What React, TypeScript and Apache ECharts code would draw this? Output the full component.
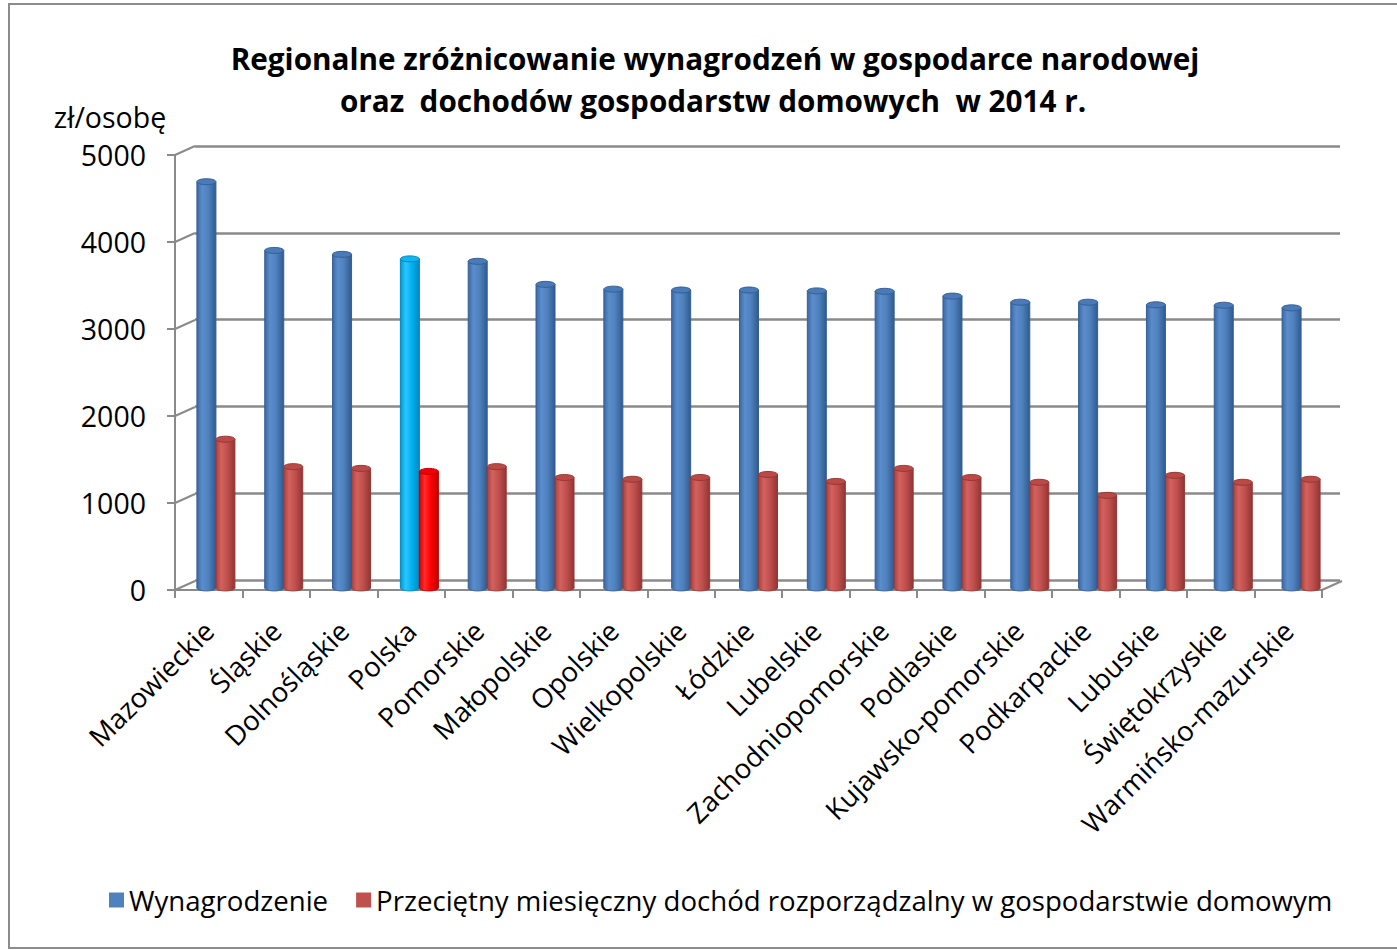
import React, { useEffect, useRef } from "react";
import * as echarts from "echarts";

const categories = [
  "Mazowieckie", "Śląskie", "Dolnośląskie", "Polska", "Pomorskie", "Małopolskie",
  "Opolskie", "Wielkopolskie", "Łódzkie", "Lubelskie", "Zachodniopomorskie",
  "Podlaskie", "Kujawsko-pomorskie", "Podkarpackie", "Lubuskie", "Świętokrzyskie",
  "Warmińsko-mazurskie",
];
const wynagrodzenie = [
  4670, 3880, 3835, 3783, 3755, 3490, 3435, 3425, 3425, 3415, 3410,
  3355, 3285, 3285, 3255, 3250, 3220,
];
const dochod = [
  1710, 1395, 1375, 1340, 1395, 1270, 1250, 1270, 1305, 1225, 1375,
  1270, 1215, 1065, 1295, 1215, 1250,
];
const yTicks = [0, 1000, 2000, 3000, 4000, 5000];
const seriesNames = [
  "Wynagrodzenie",
  "Przeciętny miesięczny dochód rozporządzalny w gospodarstwie domowym",
];
const titleLines = [
  "Regionalne zróżnicowanie wynagrodzeń w gospodarce narodowej",
  "oraz  dochodów gospodarstw domowych  w 2014 r.",
];
const unitLabel = "zł/osobę";
const highlight = "Polska";

const FONT = "'Open Sans', Lato, sans-serif";
const GRID_COLOR = "#8a8a8a";

const palettes = {
  blue: { stops: ["#3a68a4", "#5b8dcd", "#4f81bd", "#2f5a90"], edge: "#355f94", top: "#4a7bb8" },
  red: { stops: ["#a8403d", "#d3625f", "#c0504d", "#923533"], edge: "#953735", top: "#bb4a47" },
  cyan: { stops: ["#0098d4", "#2cc6ff", "#00b0f0", "#0089c0"], edge: "#0088bb", top: "#10b4f2" },
  brightRed: { stops: ["#dd0000", "#ff2a2a", "#ff0000", "#c00000"], edge: "#c00000", top: "#f00000" },
};

function grad(stops: string[]) {
  return new echarts.graphic.LinearGradient(0, 0, 1, 0, [
    { offset: 0, color: stops[0] },
    { offset: 0.28, color: stops[1] },
    { offset: 0.6, color: stops[2] },
    { offset: 1, color: stops[3] },
  ]);
}

function cylinderRenderer(seriesIdx: number) {
  return (params: any, api: any) => {
    const idx = api.value(0);
    const val = api.value(1);
    const top = api.coord([idx, val]);
    const base = api.coord([idx, 0]);
    const w = 19;
    const x = seriesIdx === 0 ? top[0] - w : top[0];
    const isHl = categories[idx] === highlight;
    const pal = seriesIdx === 0 ? (isHl ? palettes.cyan : palettes.blue) : isHl ? palettes.brightRed : palettes.red;
    const ry = 3;
    return {
      type: "group",
      children: [
        {
          type: "ellipse",
          shape: { cx: x + w / 2, cy: base[1], rx: w / 2, ry },
          style: { fill: grad(pal.stops), stroke: pal.edge, lineWidth: 0.8 },
        },
        {
          type: "rect",
          shape: { x, y: top[1], width: w, height: base[1] - top[1] },
          style: { fill: grad(pal.stops), stroke: "none" },
        },
        {
          type: "line",
          shape: { x1: x, y1: top[1], x2: x, y2: base[1] },
          style: { stroke: pal.edge, lineWidth: 1 },
        },
        {
          type: "line",
          shape: { x1: x + w, y1: top[1], x2: x + w, y2: base[1] },
          style: { stroke: pal.edge, lineWidth: 1 },
        },
        {
          type: "ellipse",
          shape: { cx: x + w / 2, cy: top[1], rx: w / 2, ry },
          style: { fill: pal.top, stroke: pal.edge, lineWidth: 1 },
        },
      ],
    };
  };
}

export default function App() {
  const ref = useRef<HTMLDivElement>(null);
  useEffect(() => {
    if (!ref.current) return;
    const chart = echarts.init(ref.current, null, { renderer: "svg" });
    const option: any = {
      animation: false,
      backgroundColor: "#ffffff",
      textStyle: { fontFamily: FONT },
      grid: [
        { left: 175, top: 155, width: 1147, height: 435 },
        { left: 195, top: 146, width: 1145, height: 434 },
        { left: 182, top: 153, width: 1153, height: 435 },
      ],
      xAxis: [
        {
          gridIndex: 0,
          type: "category",
          data: categories,
          boundaryGap: true,
          axisLine: { show: true, lineStyle: { color: GRID_COLOR, width: 2 } },
          axisTick: { show: true, length: 8, lineStyle: { color: GRID_COLOR, width: 2 } },
          axisLabel: {
            interval: 0,
            rotate: 45,
            margin: 36,
            fontSize: 27.5,
            color: "#000",
            fontFamily: FONT,
          },
        },
        { gridIndex: 1, type: "category", data: categories, show: false },
        { gridIndex: 2, type: "category", data: categories, show: false },
      ],
      yAxis: [
        {
          gridIndex: 0,
          type: "value",
          min: 0,
          max: 5000,
          interval: 1000,
          axisLine: { show: true, lineStyle: { color: GRID_COLOR, width: 2 } },
          axisTick: { show: true, length: 8, lineStyle: { color: GRID_COLOR, width: 2 } },
          axisLabel: {
            margin: 29,
            fontSize: 28.5,
            color: "#000",
            fontFamily: FONT,
            formatter: (v: number) => String(v),
          },
          splitLine: { show: false },
        },
        {
          gridIndex: 1,
          type: "value",
          min: 0,
          max: 5000,
          interval: 1000,
          axisLine: { show: false },
          axisTick: { show: false },
          axisLabel: { show: false },
          splitLine: { show: true, lineStyle: { color: GRID_COLOR, width: 2.5 } },
        },
        {
          gridIndex: 2,
          type: "value",
          min: 0,
          max: 5000,
          interval: 1000,
          show: false,
          splitLine: { show: false },
        },
      ],
      legend: {
        data: seriesNames,
        left: 104,
        top: 881,
        itemWidth: 15,
        itemHeight: 15,
        itemGap: 28,
        icon: "rect",
        textStyle: { fontSize: 27.6, color: "#000", fontFamily: FONT },
      },
      series: [
        {
          name: "side",
          type: "custom",
          xAxisIndex: 0,
          yAxisIndex: 0,
          silent: true,
          data: yTicks.map((v) => [v]),
          encode: { y: 0 },
          renderItem: (params: any, api: any) => {
            const y = api.coord([0, api.value(0)])[1];
            const x0 = params.coordSys.x;
            return {
              type: "line",
              shape: { x1: x0, y1: y, x2: x0 + 20, y2: y - 9 },
              style: { stroke: GRID_COLOR, lineWidth: 2 },
            };
          },
          z: 1,
        },
        {
          name: "floorRight",
          type: "custom",
          xAxisIndex: 0,
          yAxisIndex: 0,
          silent: true,
          data: [[0]],
          encode: { y: 0 },
          renderItem: (params: any, api: any) => {
            const y = api.coord([0, api.value(0)])[1];
            const x0 = params.coordSys.x + params.coordSys.width;
            return {
              type: "line",
              shape: { x1: x0, y1: y, x2: x0 + 20, y2: y - 9 },
              style: { stroke: GRID_COLOR, lineWidth: 2 },
            };
          },
          z: 1,
        },
        {
          name: seriesNames[0],
          type: "custom",
          xAxisIndex: 2,
          yAxisIndex: 2,
          itemStyle: { color: "#4f81bd" },
          data: wynagrodzenie.map((v, i) => [i, v]),
          encode: { x: 0, y: 1 },
          renderItem: cylinderRenderer(0),
          z: 3,
        },
        {
          name: seriesNames[1],
          type: "custom",
          xAxisIndex: 2,
          yAxisIndex: 2,
          itemStyle: { color: "#c0504d" },
          data: dochod.map((v, i) => [i, v]),
          encode: { x: 0, y: 1 },
          renderItem: cylinderRenderer(1),
          z: 4,
        },
      ],
      graphic: [
        {
          type: "rect",
          shape: { x: 9, y: 4, width: 1400, height: 944 },
          style: { fill: "none", stroke: "#8c8c8c", lineWidth: 2 },
          silent: true,
        },
        {
          type: "text",
          x: 715,
          y: 58,
          style: {
            text: titleLines[0],
            fontSize: 29.7,
            fontWeight: "bold",
            fontFamily: FONT,
            fill: "#000",
            textAlign: "center",
            textVerticalAlign: "middle",
          },
        },
        {
          type: "text",
          x: 713,
          y: 100,
          style: {
            text: titleLines[1],
            fontSize: 29.7,
            fontWeight: "bold",
            fontFamily: FONT,
            fill: "#000",
            textAlign: "center",
            textVerticalAlign: "middle",
          },
        },
        {
          type: "text",
          x: 110,
          y: 117,
          style: {
            text: unitLabel,
            fontSize: 28.5,
            fontFamily: FONT,
            fill: "#000",
            textAlign: "center",
            textVerticalAlign: "middle",
          },
        },
      ],
    };
    chart.setOption(option);
    return () => chart.dispose();
  }, []);
  return (
    <div
      ref={ref}
      style={{ position: "absolute", left: 0, top: 0, width: 1397, height: 950 }}
    />
  );
}
